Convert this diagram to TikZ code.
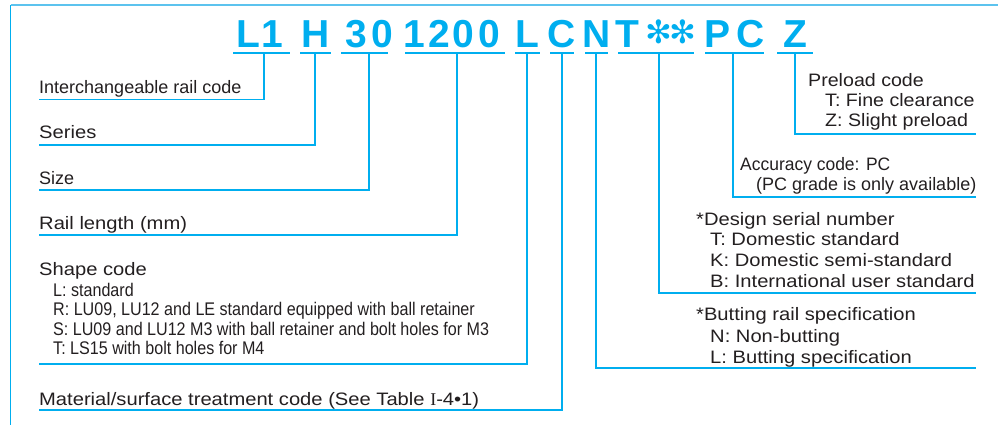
\documentclass[tikz,border=0pt]{standalone}
\usepackage{fontspec}
\setmainfont{Liberation Sans}
\newfontfamily\narrowfont[FakeStretch=0.88]{Liberation Sans}
\newfontfamily\widefont[FakeStretch=1.12]{Liberation Sans}
\newfontfamily\midfont[FakeStretch=1.09]{Liberation Sans}
\newfontfamily\accfont[FakeStretch=0.97]{Liberation Sans}
\newfontfamily\symfont{DejaVu Sans}
\newfontfamily\romfont{Liberation Serif}
\definecolor{cy}{HTML}{00AEEF}
\definecolor{cyl}{HTML}{5CC3EE}
\definecolor{ink}{HTML}{231F20}
\begin{document}
\begin{tikzpicture}[x=1pt,y=-1pt,
  code/.style={font=\fontsize{39}{39}\selectfont\bfseries, text=cy, anchor=base, inner sep=0pt},
  star/.style={font=\symfont\fontsize{32}{32}\selectfont, text=cy, anchor=center, inner sep=0pt},
  lab/.style={font=\fontsize{18}{18}\selectfont, anchor=base west, inner sep=0pt, text=ink},
  wlab/.style={lab, font=\widefont\fontsize{18}{18}\selectfont},
  mlab/.style={lab, font=\midfont\fontsize{18}{18}\selectfont},
  alab/.style={lab, font=\accfont\fontsize{18}{18}\selectfont},
  sublab/.style={font=\narrowfont\fontsize{18.3}{18.3}\selectfont, anchor=base west, inner sep=0pt, text=ink},
  ln/.style={draw=cy, line width=1.3pt}]
\useasboundingbox (0,0) rectangle (998,425);
% frame
\coordinate (fb) at (10.5,425);
\coordinate (ft) at (10.5,5.5);
\coordinate (fr) at (998,5.5);
\draw[cyl, line width=2pt] (ft) -- (fr);
\draw[cy, line width=1.5pt] (fb) -- (ft);
% code characters
\node[code] (c1) at (248.5,48) {L};
\node[code] (c2) at (272.5,48) {1};
\node[code] (c3) at (316,48) {H};
\node[code] (c4) at (356,48) {3};
\node[code] (c5) at (382,48) {0};
\node[code] (c6) at (414,48) {1};
\node[code] (c7) at (439,48) {2};
\node[code] (c8) at (463,48) {0};
\node[code] (c9) at (489,48) {0};
\node[code] (c10) at (527,48) {L};
\node[code] (c11) at (561.5,48) {C};
\node[code] (c12) at (596.5,48) {N};
\node[code] (c13) at (627.5,48) {T};
\node[star] (c14) at (659,32) {✻};
\node[star] (c15) at (683,32) {✻};
\node[code] (c16) at (717.5,48) {P};
\node[code] (c17) at (750.5,48) {C};
\node[code] (c18) at (795,48) {Z};
% group underlines
\foreach \n/\a/\b/\s in {1/233/290/264, 2/300/331/315, 3/341/388/369, 4/405/505/457, 5/515/540/527, 6/550/574/562, 7/585/608/596, 8/618/694/659, 9/705/764/733, 10/777/813/795}{
  \coordinate (g\n a) at (\a,53);
  \coordinate (g\n b) at (\b,53);
  \coordinate (g\n s) at (\s,53);
  \draw[ln] (g\n a) -- (g\n b);
}
% label line ends
\coordinate (e1) at (38.5,99.5);
\coordinate (e2) at (38.5,145);
\coordinate (e3) at (38.5,190);
\coordinate (e4) at (38.5,235);
\coordinate (e5) at (38.5,364);
\coordinate (e6) at (38.5,410);
\coordinate (e7) at (976,368);
\coordinate (e8) at (976,293);
\coordinate (e9) at (976,197);
\coordinate (e10) at (976,134);
\foreach \n in {1,...,10}{ \draw[ln] (g\n s) |- (e\n); }
% left labels
\node[lab] (t1) at (39,94) {Interchangeable rail code};
\node[wlab] (t2) at (39,139) {Series};
\node[lab] (t3) at (39,184) {Size};
\node[wlab] (t4) at (39,229) {Rail length (mm)};
\node[wlab] (t5) at (39,275) {Shape code};
\node[sublab] (s1) at (53,296) {L: standard};
\node[sublab] (s2) at (53,315.5) {R: LU09, LU12 and LE standard equipped with ball retainer};
\node[sublab] (s3) at (53,335) {S: LU09 and LU12 M3 with ball retainer and bolt holes for M3};
\node[sublab] (s4) at (53,354.5) {T: LS15 with bolt holes for M4};
\node[wlab] (t6) at (39,405) {Material/surface treatment code (See Table {\romfont I}-4•1)};
% right labels
\node[mlab] (p1) at (808,86.5) {Preload code};
\node[mlab] (p2) at (825,107) {T: Fine clearance};
\node[mlab] (p3) at (825,127) {Z: Slight preload};
\node[alab] (a1) at (740,170) {Accuracy code: PC};
\node[lab] (a2) at (756,190) {(PC grade is only available)};
\node[wlab] (d1) at (696,225) {*Design serial number};
\node[wlab] (d2) at (710,245) {T: Domestic standard};
\node[wlab] (d3) at (710,266) {K: Domestic semi-standard};
\node[wlab] (d4) at (710,287) {B: International user standard};
\node[wlab] (b1) at (696,320) {*Butting rail specification};
\node[wlab] (b2) at (710,342) {N: Non-butting};
\node[wlab] (b3) at (710,363) {L: Butting specification};
\end{tikzpicture}
\end{document}
